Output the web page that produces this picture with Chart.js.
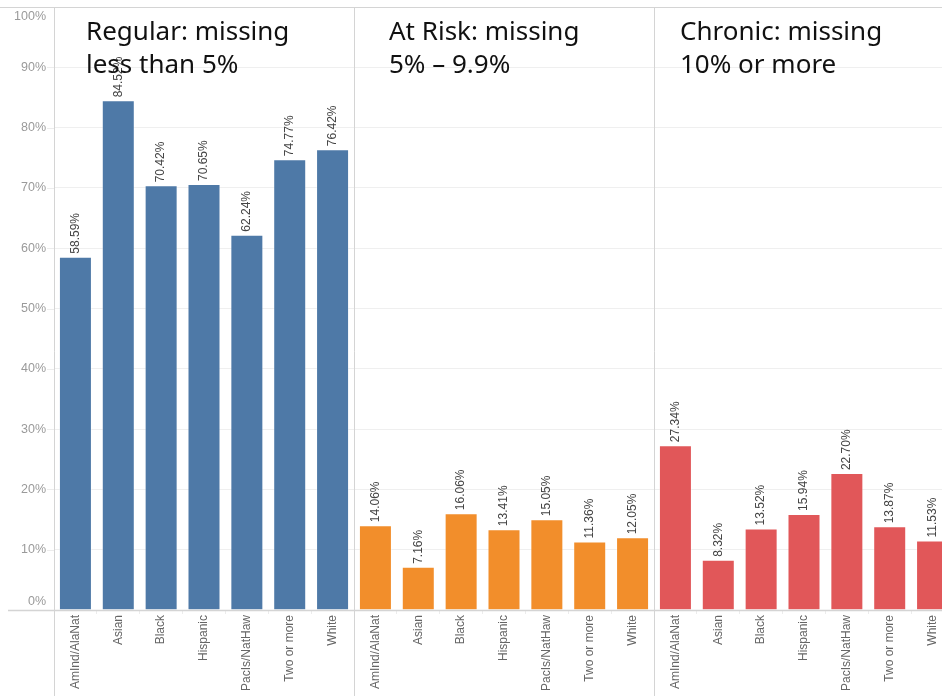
<!DOCTYPE html>
<html>
<head>
<meta charset="utf-8">
<script src="https://cdn.jsdelivr.net/npm/chart.js@4"></script>
<style>
  html, body { margin: 0; padding: 0; background: #fff; overflow: hidden; }
  #wrap { width: 942px; height: 696px; overflow: hidden; position: relative; }
  canvas { display: block; }
</style>
</head>
<body>
<div id="wrap"><canvas id="chart" width="954" height="696"></canvas></div>
<script>
// Attendance groups by student race/ethnicity (share of students, %)
const categories = ['AmInd/AlaNat', 'Asian', 'Black', 'Hispanic', 'PacIs/NatHaw', 'Two or more', 'White'];
const regular = [58.59, 84.52, 70.42, 70.65, 62.24, 74.77, 76.42];
const atRisk  = [14.06, 7.16, 16.06, 13.41, 15.05, 11.36, 12.05];
const chronic = [27.34, 8.32, 13.52, 15.94, 22.70, 13.87, 11.53];
const groupTitles = [
  ['Regular: missing', 'less than 5%'],
  ['At Risk: missing', '5% \u2013 9.9%'],
  ['Chronic: missing', '10% or more']
];
const groupColors = ['#4e79a7', '#f28e2b', '#e15759'];
const yTicks = [0, 10, 20, 30, 40, 50, 60, 70, 80, 90, 100];

// Flatten the three facets into one category axis
const seriesList = [regular, atRisk, chronic];
const labels = [];
const values = [];
const colors = [];
seriesList.forEach((s, g) => {
  s.forEach((v, i) => {
    labels.push(categories[i]);
    values.push(v);
    colors.push(groupColors[g]);
  });
});

const LINE = '#d4d4d4';
const titleOffsets = [32, 35, 26];

const facetPlugin = {
  id: 'facets',
  beforeDatasetsDraw(chart) {
    const { ctx, scales: { y }, chartArea } = chart;
    ctx.save();
    // short tick stubs for the y grid, left of the axis
    ctx.strokeStyle = '#ececec';
    ctx.lineWidth = 1;
    yTicks.forEach(v => {
      const py = Math.round(y.getPixelForValue(v)) + 0.5;
      ctx.beginPath();
      ctx.moveTo(47, py);
      ctx.lineTo(chartArea.left, py);
      ctx.stroke();
    });
    ctx.restore();
  },
  afterDatasetsDraw(chart) {
    const { ctx } = chart;
    const meta = chart.getDatasetMeta(0);
    ctx.save();
    // value labels above each bar
    ctx.font = '12px "Liberation Sans", Arial, sans-serif';
    ctx.fillStyle = '#444';
    ctx.textAlign = 'left';
    ctx.textBaseline = 'middle';
    meta.data.forEach((bar, i) => {
      ctx.save();
      ctx.translate(bar.x, bar.y - 3);
      ctx.rotate(-Math.PI / 2);
      ctx.fillText(values[i].toFixed(2) + '%', 0, 0);
      ctx.restore();
    });
    ctx.restore();
  },
  afterDraw(chart) {
    const { ctx, scales: { x, y } } = chart;
    const H = chart.height;
    const catW = x.getPixelForValue(1) - x.getPixelForValue(0);
    ctx.save();
    ctx.strokeStyle = LINE;
    ctx.lineWidth = 1;
    // top border
    const top = Math.round(y.getPixelForValue(100)) + 0.5;
    ctx.beginPath(); ctx.moveTo(0, top); ctx.lineTo(chart.width, top); ctx.stroke();
    // zero baseline
    const zero = Math.round(y.getPixelForValue(0)) + 0.5;
    ctx.lineWidth = 1.5;
    ctx.beginPath(); ctx.moveTo(8, zero); ctx.lineTo(chart.width, zero); ctx.stroke();
    // facet separators
    ctx.lineWidth = 1;
    for (let g = 0; g < 3; g++) {
      const px = Math.round(x.getPixelForValue(g * 7) - catW / 2) + 0.5;
      ctx.beginPath(); ctx.moveTo(px, top); ctx.lineTo(px, H); ctx.stroke();
    }
    // y tick labels
    ctx.font = '12.5px "Liberation Sans", Arial, sans-serif';
    ctx.fillStyle = '#9a9a9a';
    ctx.textAlign = 'right';
    ctx.textBaseline = 'middle';
    yTicks.forEach(v => {
      let py = y.getPixelForValue(v);
      if (v === 100) py += 10;
      if (v === 0) py -= 8;
      ctx.fillText(v + '%', 46, py);
    });
    // facet titles
    ctx.font = '26px "Noto Sans", "Open Sans", sans-serif';
    ctx.fillStyle = '#111';
    ctx.textAlign = 'left';
    ctx.textBaseline = 'alphabetic';
    groupTitles.forEach((lines, g) => {
      const left = x.getPixelForValue(g * 7) - catW / 2 + titleOffsets[g];
      ctx.fillText(lines[0], left, 40);
      ctx.fillText(lines[1], left, 73);
    });
    ctx.restore();
  }
};

new Chart(document.getElementById('chart'), {
  type: 'bar',
  data: {
    labels: labels,
    datasets: [{
      data: values,
      backgroundColor: colors,
      borderColor: 'rgba(255,255,255,0.35)',
      borderWidth: 1,
      categoryPercentage: 1,
      barPercentage: 0.77
    }]
  },
  options: {
    responsive: false,
    animation: false,
    devicePixelRatio: 1,
    layout: { padding: { top: 7, left: 54, right: 0, bottom: 0 } },
    plugins: { legend: { display: false }, tooltip: { enabled: false } },
    scales: {
      x: {
        offset: true,
        grid: { display: true, drawOnChartArea: false, drawTicks: true, tickLength: 4, color: '#ececec', offset: true },
        border: { display: false },
        ticks: {
          autoSkip: false,
          minRotation: 90,
          maxRotation: 90,
          padding: 1,
          color: '#666',
          font: { family: '"Liberation Sans", Arial, sans-serif', size: 12 }
        },
        afterFit(scale) { scale.height = 86; }
      },
      y: {
        min: 0,
        max: 100,
        ticks: { display: false, stepSize: 10 },
        grid: { color: '#efefef', drawTicks: false },
        border: { display: false },
        afterFit(scale) { scale.width = 0; }
      }
    }
  },
  plugins: [facetPlugin]
});
</script>
</body>
</html>
